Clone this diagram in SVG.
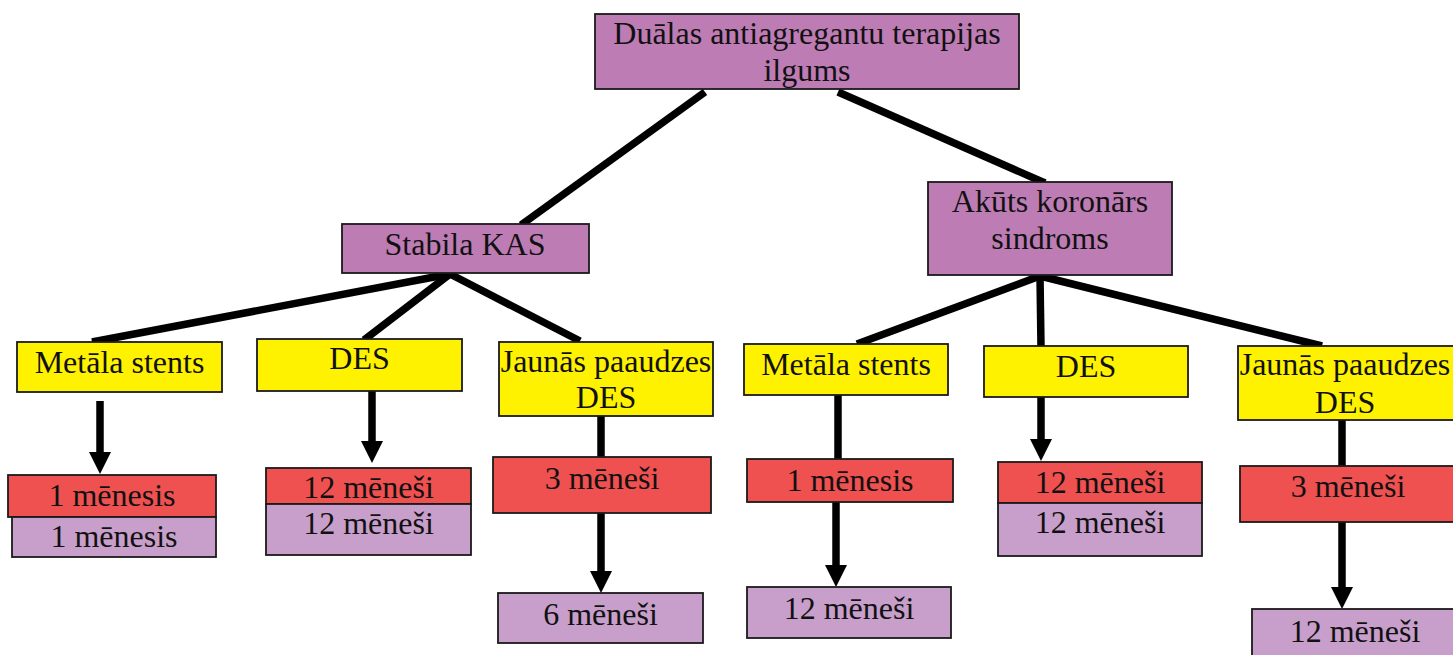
<svg xmlns="http://www.w3.org/2000/svg" width="1453" height="655" viewBox="0 0 1453 655">
<defs>
<style>
.box{stroke:#1a1a1a;stroke-width:1.8}
.p{fill:#BE7CB5}
.lp{fill:#C89FCB}
.r{fill:#EF5050}
.y{fill:#FFF200}
text{font-size:32px;fill:#111;text-anchor:middle}
.c line{stroke:#000;stroke-width:7.5}
.ar{marker-end:url(#ah)}
</style>
<marker id="ah" viewBox="0 0 22 22" refX="1" refY="11" markerWidth="22" markerHeight="22" markerUnits="userSpaceOnUse" orient="auto">
<path d="M0,0 L22,11 L0,22 z" fill="#000"/>
</marker>
</defs>
<rect width="1453" height="655" fill="#fff"/>
<g id="connectors" class="c">
<line x1="705" y1="92" x2="521" y2="225"/>
<line x1="838" y1="92" x2="1045" y2="183"/>
<line x1="450" y1="274" x2="92" y2="342"/>
<line x1="450" y1="274" x2="364" y2="340"/>
<line x1="450" y1="274" x2="580" y2="341"/>
<line x1="1040" y1="276" x2="857" y2="344"/>
<line x1="1040" y1="276" x2="1041" y2="347"/>
<line x1="1040" y1="276" x2="1322" y2="346"/>
<line class="ar" x1="100" y1="401" x2="100" y2="453"/>
<line class="ar" x1="372" y1="391" x2="372" y2="442"/>
<line x1="601" y1="416" x2="601" y2="458"/>
<line class="ar" x1="601" y1="513" x2="601" y2="572"/>
<line x1="838" y1="395" x2="838" y2="460"/>
<line class="ar" x1="836" y1="502" x2="836" y2="566"/>
<line class="ar" x1="1041" y1="397" x2="1041" y2="440"/>
<line x1="1342" y1="420" x2="1342" y2="467"/>
<line class="ar" x1="1342" y1="522" x2="1342" y2="588"/>
</g>
<g font-family="'Liberation Serif', Tinos, 'Times New Roman', 'DejaVu Serif', serif">
<g id="root">
<rect class="box p" x="595" y="14" width="424" height="75"/>
<text x="807" y="44">Duālas antiagregantu terapijas</text>
<text x="807" y="81">ilgums</text>
</g>
<g id="stabila">
<rect class="box p" x="342" y="224" width="247" height="49"/>
<text x="465" y="255">Stabila KAS</text>
</g>
<g id="akuts">
<rect class="box p" x="928" y="182" width="244" height="93"/>
<text x="1050" y="212">Akūts koronārs</text>
<text x="1050" y="249">sindroms</text>
</g>
<g id="s-metala">
<rect class="box y" x="17" y="342" width="205" height="50"/>
<text x="119.5" y="373">Metāla stents</text>
</g>
<g id="s-metala-r">
<rect class="box r" x="8" y="475" width="208" height="42"/>
<text x="112" y="506">1 mēnesis</text>
</g>
<g id="s-metala-p">
<rect class="box lp" x="12" y="517" width="204" height="40"/>
<text x="114" y="547">1 mēnesis</text>
</g>
<g id="s-des">
<rect class="box y" x="257" y="339" width="205" height="52"/>
<text x="359.5" y="369">DES</text>
</g>
<g id="s-des-r">
<rect class="box r" x="266" y="468" width="205" height="36"/>
<text x="368.5" y="498">12 mēneši</text>
</g>
<g id="s-des-p">
<rect class="box lp" x="266" y="504" width="205" height="51"/>
<text x="368.5" y="534">12 mēneši</text>
</g>
<g id="s-jaunas">
<rect class="box y" x="499" y="342" width="214" height="74"/>
<text x="606" y="372">Jaunās paaudzes</text>
<text x="606" y="408">DES</text>
</g>
<g id="s-jaunas-r">
<rect class="box r" x="493" y="457" width="218" height="56"/>
<text x="602" y="489">3 mēneši</text>
</g>
<g id="s-jaunas-p">
<rect class="box lp" x="498" y="593" width="205" height="50"/>
<text x="600.5" y="625">6 mēneši</text>
</g>
<g id="a-metala">
<rect class="box y" x="744" y="344" width="204" height="51"/>
<text x="846" y="375">Metāla stents</text>
</g>
<g id="a-metala-r">
<rect class="box r" x="747" y="459" width="206" height="43"/>
<text x="850" y="491">1 mēnesis</text>
</g>
<g id="a-metala-p">
<rect class="box lp" x="747" y="587" width="204" height="51"/>
<text x="849" y="619">12 mēneši</text>
</g>
<g id="a-des">
<rect class="box y" x="984" y="346" width="204" height="51"/>
<text x="1086" y="377">DES</text>
</g>
<g id="a-des-r">
<rect class="box r" x="998" y="462" width="204" height="41"/>
<text x="1100" y="493">12 mēneši</text>
</g>
<g id="a-des-p">
<rect class="box lp" x="998" y="503" width="204" height="53"/>
<text x="1100" y="533">12 mēneši</text>
</g>
<g id="a-jaunas">
<rect class="box y" x="1238" y="346" width="216" height="74"/>
<text x="1345" y="375">Jaunās paaudzes</text>
<text x="1345" y="413">DES</text>
</g>
<g id="a-jaunas-r">
<rect class="box r" x="1240" y="466" width="216" height="56"/>
<text x="1348" y="497">3 mēneši</text>
</g>
<g id="a-jaunas-p">
<rect class="box lp" x="1252" y="609" width="206" height="50"/>
<text x="1355" y="642">12 mēneši</text>
</g>
</g>
</svg>
